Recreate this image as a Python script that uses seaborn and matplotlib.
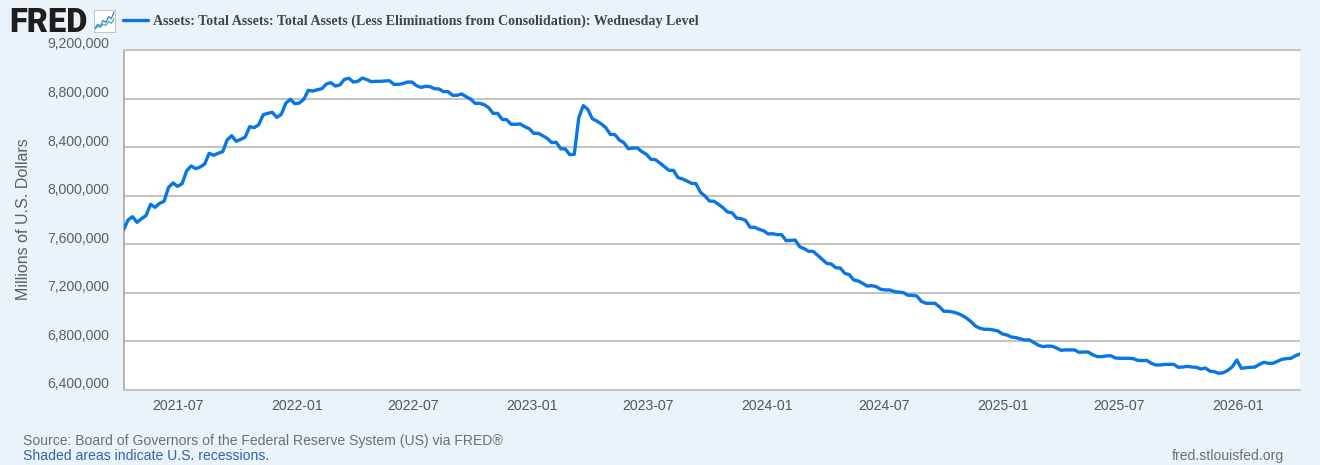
"""
FRED chart: Total Assets of the Federal Reserve, Wednesday level
"""

import numpy as np
import pandas as pd
import matplotlib
matplotlib.use("Agg")
import matplotlib.pyplot as plt
import matplotlib.dates as mdates
from matplotlib.ticker import FuncFormatter
from matplotlib.transforms import ScaledTranslation
import seaborn as sns

# ===========================================================
# Data (weekly, in billions of dollars)
# ===========================================================
START_DATE = "2021-04-07"

assets_k = [
    7718, 7800, 7827, 7781, 7811, 7836, 7929, 7904, 7937, 7954,
    8069, 8105, 8077, 8099, 8204, 8245, 8223, 8236, 8261, 8349,
    8333, 8349, 8363, 8459, 8494, 8448, 8464, 8483, 8569, 8560,
    8585, 8667, 8678, 8687, 8645, 8670, 8761, 8794, 8758, 8763,
    8794, 8868, 8862, 8873, 8881, 8920, 8931, 8903, 8912, 8958,
    8967, 8936, 8942, 8969, 8956, 8939, 8942, 8942, 8945, 8947,
    8917, 8917, 8923, 8936, 8936, 8906, 8892, 8901, 8898, 8881,
    8879, 8857, 8857, 8827, 8827, 8838, 8816, 8796, 8761, 8761,
    8750, 8725, 8678, 8678, 8629, 8626, 8588, 8588, 8591, 8569,
    8552, 8514, 8514, 8494, 8472, 8437, 8440, 8387, 8385, 8338,
    8341, 8643, 8742, 8711, 8634, 8615, 8591, 8560, 8505, 8503,
    8459, 8437, 8387, 8393, 8393, 8363, 8341, 8300, 8297, 8269,
    8239, 8209, 8209, 8149, 8138, 8121, 8102, 8099, 8028, 7998,
    7956, 7954, 7929, 7901, 7866, 7860, 7816, 7811, 7797, 7740,
    7740, 7723, 7712, 7685, 7687, 7679, 7679, 7630, 7632, 7635,
    7580, 7564, 7542, 7542, 7509, 7476, 7443, 7438, 7407, 7405,
    7361, 7350, 7306, 7298, 7278, 7256, 7259, 7251, 7229, 7224,
    7224, 7210, 7206, 7202, 7180, 7180, 7174, 7130, 7114, 7114,
    7114, 7086, 7048, 7048, 7042, 7031, 7015, 6993, 6963, 6927,
    6908, 6900, 6900, 6894, 6886, 6861, 6853, 6836, 6831, 6820,
    6812, 6812, 6790, 6768, 6757, 6762, 6760, 6746, 6727, 6730,
    6730, 6730, 6710, 6713, 6713, 6691, 6675, 6675, 6680, 6683,
    6664, 6661, 6661, 6661, 6658, 6644, 6642, 6644, 6620, 6606,
    6606, 6611, 6611, 6611, 6587, 6589, 6595, 6589, 6587, 6573,
    6581, 6556, 6551, 6537, 6543, 6562, 6592, 6647, 6578, 6584,
    6587, 6589, 6611, 6628, 6620, 6620, 6636, 6653, 6658, 6661,
    6683, 6696,
]

y_ticks = [6400000, 6800000, 7200000, 7600000, 8000000, 8400000, 8800000, 9200000]

series_name = "Assets: Total Assets: Total Assets (Less Eliminations from Consolidation): Wednesday Level"
y_title = "Millions of U.S. Dollars"
source_text = "Source: Board of Governors of the Federal Reserve System (US) via FRED\u00ae"
recession_text = "Shaded areas indicate U.S. recessions."
site_text = "fred.stlouisfed.org"

# little logo sparkline, just decoration
icon_blue = [1, 3, 2, 5, 4, 7, 6, 9.5]
icon_green = [0.5, 2, 1.5, 3, 2.5, 4.5, 3.5, 6]

BG = "#eaf2fa"
LINE = "#0876e6"
GRID = "#c4c4c4"
SANS = "Liberation Sans"

df = pd.DataFrame({
    "date": pd.date_range(START_DATE, periods=len(assets_k), freq="7D"),
    "assets": np.array(assets_k) * 1000,
})

# ===========================================================
# Plot
# ===========================================================
sns.set_theme(style="white")
plt.rcParams["font.family"] = [SANS, "DejaVu Sans"]

W, H = 1320, 465
fig = plt.figure(figsize=(W / 100, H / 100), dpi=100, facecolor=BG)
ax = fig.add_axes([123.5 / W, 1 - 390 / H, (1300 - 123.5) / W, 340 / H])
ax.set_facecolor("white")

sns.lineplot(data=df, x="date", y="assets", ax=ax, color=LINE, linewidth=2.4,
             label=series_name, zorder=3)

ax.set_xlim(df["date"].iloc[0], df["date"].iloc[-1])
ax.set_ylim(y_ticks[0], y_ticks[-1])
ax.set_yticks(y_ticks)
ax.yaxis.set_major_formatter(FuncFormatter(lambda v, _: f"{int(v):,}"))
ax.xaxis.set_major_locator(mdates.MonthLocator(bymonth=[1, 7]))
ax.xaxis.set_major_formatter(mdates.DateFormatter("%Y-%m"))

ax.grid(axis="y", color=GRID, linewidth=1.5, zorder=1)
ax.set_xlabel("")
ax.set_ylabel("")

for side in ["top", "bottom"]:
    ax.spines[side].set_color(GRID)
    ax.spines[side].set_linewidth(1.5)
ax.spines["left"].set_color("#a0a0a0")
ax.spines["left"].set_linewidth(1.1)
ax.spines["right"].set_visible(False)

ax.tick_params(axis="y", length=0, pad=10.4, labelsize=10.1, labelcolor="#606060")
ax.tick_params(axis="x", length=7.5, width=0.8, color="#ccd6eb", pad=-0.8,
               labelsize=10.1, labelcolor="#555555")

# y labels sit above their grid lines
shift = ScaledTranslation(0, 7 / 100, fig.dpi_scale_trans)
for lab in ax.get_yticklabels():
    lab.set_transform(lab.get_transform() + shift)

fig.text(23.5 / W, 1 - 219.5 / H, y_title, rotation=90, ha="center", va="center",
         fontsize=11.5, color="#606060")

# legend line + title on top of the chart
ax.legend(loc="center left", bbox_to_anchor=(123 / W, 1 - 21.5 / H),
          bbox_transform=fig.transFigure, frameon=False, borderpad=0, borderaxespad=0,
          handlelength=1.8, handletextpad=0.36,
          prop={"family": "Liberation Serif", "weight": "bold", "size": 10.1},
          labelcolor="#444444")

# ===========================================================
# Logo and footer
# ===========================================================
fig.text(9 / W, 1 - 32 / H, "FRED", fontsize=23.5, family="Roboto", fontweight=900,
         color="#1e1e1e", ha="left", va="baseline")

icon = fig.add_axes([94 / W, 1 - 32 / H, 21 / W, 22 / H])
icon.plot(icon_blue, color="#2f7fd6", linewidth=0.9)
icon.plot(icon_green, color="#3bb39a", linewidth=0.9)
icon.set_xticks([])
icon.set_yticks([])
icon.set_ylim(-1, 10.5)
for sp in icon.spines.values():
    sp.set_color("#c4c4c4")
    sp.set_linewidth(0.7)

fig.text(23 / W, 1 - 440.5 / H, source_text, fontsize=10.05, color="#707070", ha="left", va="center")
fig.text(23 / W, 1 - 455.5 / H, recession_text, fontsize=10.05, color="#3a62a5", ha="left", va="center")
fig.text(1284 / W, 1 - 455.5 / H, site_text, fontsize=10.05, color="#707070", ha="right", va="center")

fig.savefig("out.png", dpi=100, facecolor=BG)
